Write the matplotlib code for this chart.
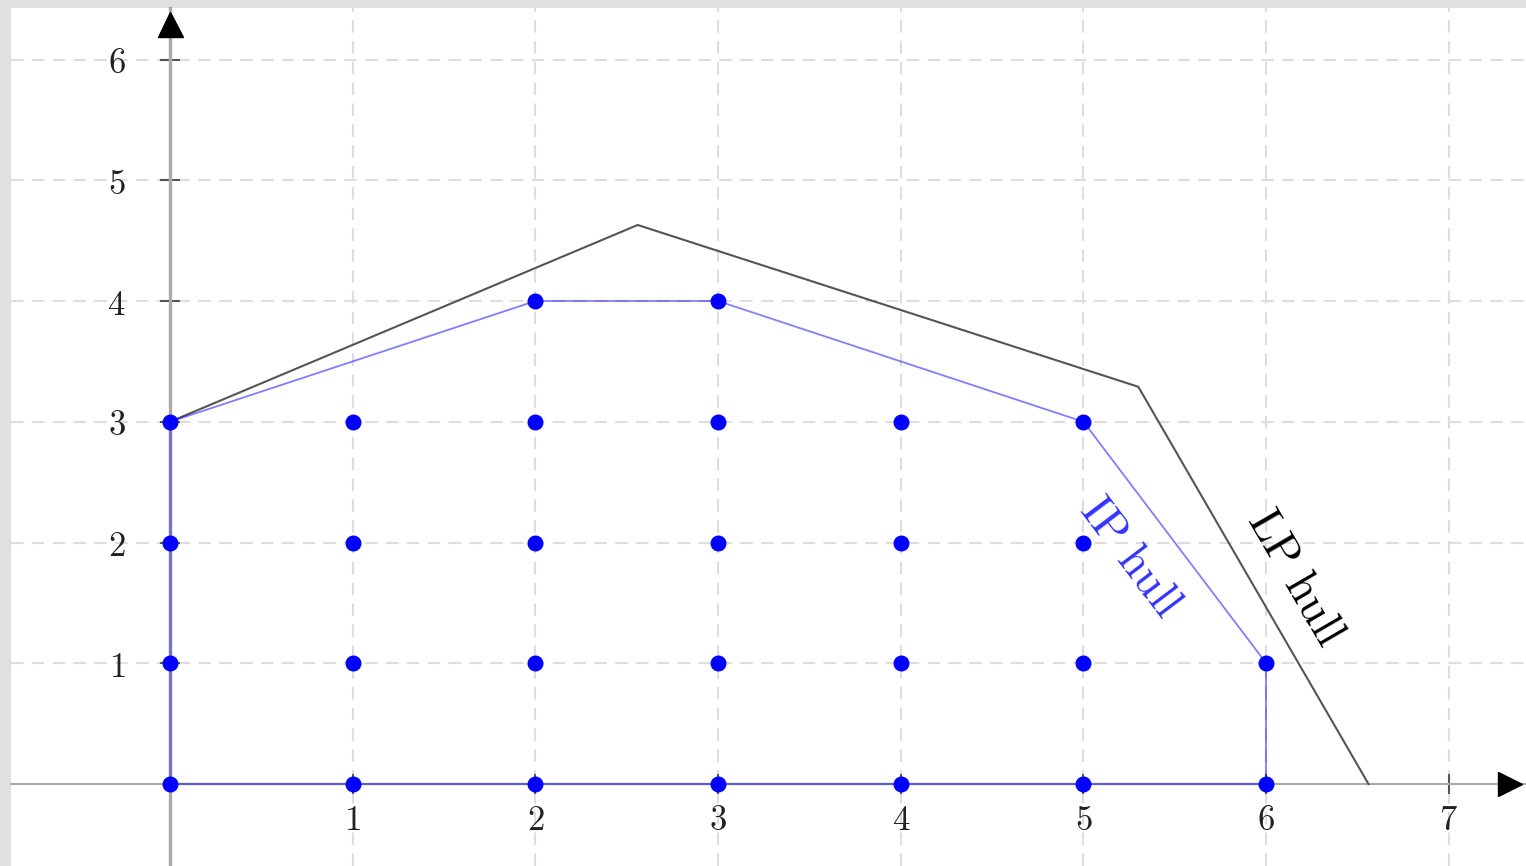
import numpy as np
import matplotlib.pyplot as plt

plt.rcParams['mathtext.fontset'] = 'cm'

# 整数点（IP の実行可能点）
pts_x = [0, 1, 2, 3, 4, 5, 6,
         0, 1, 2, 3, 4, 5, 6,
         0, 1, 2, 3, 4, 5,
         0, 1, 2, 3, 4, 5,
         2, 3]
pts_y = [0, 0, 0, 0, 0, 0, 0,
         1, 1, 1, 1, 1, 1, 1,
         2, 2, 2, 2, 2, 2,
         3, 3, 3, 3, 3, 3,
         4, 4]

# IP hull の頂点
ip_hull_x = [0, 0, 2, 3, 5, 6, 6, 0]
ip_hull_y = [0, 3, 4, 4, 3, 1, 0, 0]

# LP hull の頂点
lp_hull_x = [0, 2.56, 5.30, 6.56]
lp_hull_y = [3, 4.63, 3.29, 0]

x_ticks = [1, 2, 3, 4, 5, 6, 7]
y_ticks = [1, 2, 3, 4, 5, 6]

fig = plt.figure(figsize=(15.26, 8.66), dpi=100, facecolor='#e0e0e0')
ax = fig.add_axes([11 / 1526, 0, 1515 / 1526, 858 / 866])
ax.set_facecolor('white')
ax.set_xlim(-0.870, 7.422)
ax.set_ylim(-0.679, 6.427)

# 軸
for side in ['top', 'right']:
    ax.spines[side].set_visible(False)
ax.spines['left'].set_position(('data', 0))
ax.spines['bottom'].set_position(('data', 0))
ax.spines['left'].set_color('#aaaaaa')
ax.spines['bottom'].set_color('#aaaaaa')
ax.spines['left'].set_linewidth(2.4)
ax.spines['bottom'].set_linewidth(1.5)
ax.spines['left'].set_zorder(1.5)
ax.spines['bottom'].set_zorder(1.5)

ax.set_xticks(x_ticks)
ax.set_yticks(y_ticks)
ax.set_xticklabels([f'${t}$' for t in x_ticks])
ax.set_yticklabels([f'${t}$' for t in y_ticks])
ax.tick_params(direction='inout', length=14, width=1.5, color='#555555',
               labelsize=25, labelcolor='#222222')
ax.tick_params(axis='x', pad=7)
ax.tick_params(axis='y', pad=25)

ax.grid(True, color='#dddddd', linestyle=(0, (6, 4)), linewidth=1.5)
ax.set_axisbelow(True)

# 矢印
ax.plot(0.9894, 0, '>', color='black', markersize=17,
        transform=ax.get_yaxis_transform(), clip_on=False, zorder=5)
ax.plot(0, 0.9808, '^', color='black', markersize=18,
        transform=ax.get_xaxis_transform(), clip_on=False, zorder=5)

# LP hull
ax.plot(lp_hull_x, lp_hull_y, color='#555555', linewidth=1.5, zorder=3)

# IP hull（軸上の辺は太く淡く）
for i in range(len(ip_hull_x) - 1):
    xa, xb = ip_hull_x[i], ip_hull_x[i + 1]
    ya, yb = ip_hull_y[i], ip_hull_y[i + 1]
    if xa == xb == 0:
        ax.plot([xa, xb], [ya, yb], color='blue', alpha=0.3, linewidth=2.4, zorder=3)
    elif ya == yb == 0:
        ax.plot([xa, xb], [ya, yb], color='blue', alpha=0.45, linewidth=1.6, zorder=3)
    else:
        ax.plot([xa, xb], [ya, yb], color='blue', alpha=0.5, linewidth=1.3,
                solid_capstyle='round', zorder=3)

# 整数点
ax.plot(pts_x, pts_y, 'o', color='blue', markersize=10.5, zorder=4)

# ラベル
ip_ang = np.degrees(np.arctan2(ip_hull_y[5] - ip_hull_y[4], ip_hull_x[5] - ip_hull_x[4]))
lp_ang = np.degrees(np.arctan2(lp_hull_y[3] - lp_hull_y[2], lp_hull_x[3] - lp_hull_x[2]))
ax.text(5.26, 1.88, r'$\mathrm{IP\ hull}$', color='#3333ff', fontsize=33,
        rotation=ip_ang, transform_rotates_text=True, rotation_mode='anchor',
        ha='center', va='center')
ax.text(6.16, 1.71, r'$\mathrm{LP\ hull}$', color='black', fontsize=33,
        rotation=lp_ang, transform_rotates_text=True, rotation_mode='anchor',
        ha='center', va='center')

fig.savefig('out.png', dpi=100, facecolor=fig.get_facecolor())
